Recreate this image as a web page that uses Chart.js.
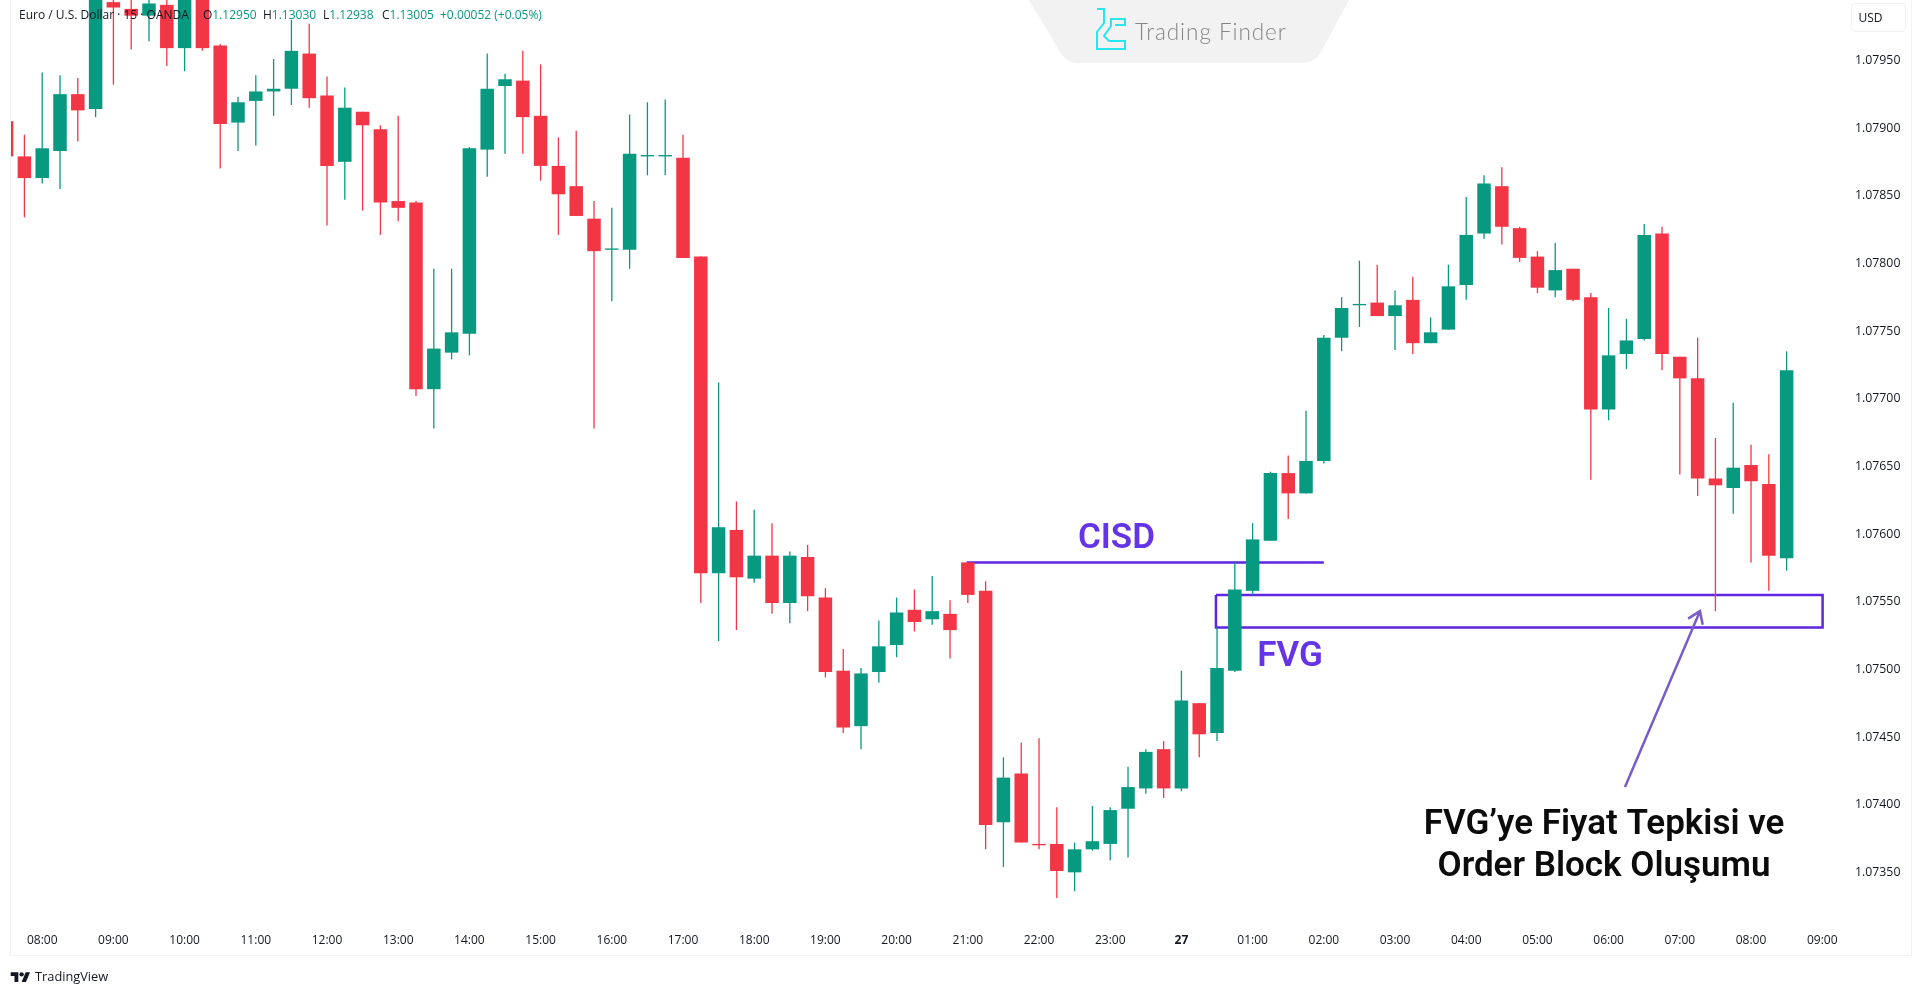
<!DOCTYPE html>
<html>
<head>
<meta charset="utf-8">
<title>EUR/USD 15m</title>
<script src="https://cdn.jsdelivr.net/npm/chart.js@4"></script>
<style>
    html, body { margin: 0; padding: 0; background: #fff; }
    body { width: 1919px; height: 996px; overflow: hidden; position: relative; }
    #stage { position: absolute; left: 0; top: 0; }
    .narrow { font-family: "Open Sans", sans-serif; }
    .frame { position: absolute; background: #f1f2f4; }
    #legend { position: absolute; left: 19px; top: 7px; font-size: 12px; line-height: 16px; color: #131722; white-space: nowrap; }
    #legend span { position: absolute; top: 0; }
    #legend i { font-style: normal; color: #089981; }
    #usd { position: absolute; left: 1851px; top: 3px; width: 55px; height: 29px; border: 1px solid #f0f1f3; border-radius: 4px; box-sizing: border-box; padding-right: 16px; text-align: center; line-height: 28px; font-size: 12px; color: #131722; }
    #tvText { position: absolute; left: 35px; top: 967px; font-size: 12.8px; line-height: 18px; color: #131722; }
    #tfText { position: absolute; left: 1135px; top: 18px; font: 300 22.5px Lato, sans-serif; letter-spacing: 0.95px; color: #858585; white-space: nowrap; }
    svg { position: absolute; }
</style>
</head>
<body>
<canvas id="stage" width="1919" height="996"></canvas>

<div class="frame" style="left:10px;top:0;width:1px;height:955px"></div>
<div class="frame" style="left:1911px;top:0;width:1px;height:955px"></div>
<div class="frame" style="left:10px;top:955px;width:1902px;height:1px"></div>

<div id="legend" class="narrow">
    <span style="left:0">Euro / U.S. Dollar · 15 · OANDA</span>
    <span style="left:184px">O<i>1.12950</i></span>
    <span style="left:244px">H<i>1.13030</i></span>
    <span style="left:304px">L<i>1.12938</i></span>
    <span style="left:363px">C<i>1.13005</i></span>
    <span style="left:421px"><i>+0.00052 (+0.05%)</i></span>
</div>

<svg style="left:1029px;top:0" width="321" height="64" viewBox="0 0 321 64">
    <path d="M0 0 L320 0 L293 50 Q287 63 273 63 L50 63 Q36 63 30 50 Z" fill="#f2f2f2"/>
</svg>
<svg style="left:1095px;top:6px" width="34" height="46" viewBox="0 0 34 46" fill="none" stroke="#27e6ee" stroke-width="2">
    <path d="M2 3 H9 V17 L2 26 V43 H30 V35 H14 L9 30 L16 20 V13 H30 V19 H20"/>
</svg>
<div id="tfText">Trading Finder</div>

<div id="usd" class="narrow">USD</div>

<svg style="left:10px;top:970px" width="21" height="12" viewBox="0 0 36 22" fill="#131722">
    <path d="M14 22H7V11H0V4h14v18zM28 22h-8l7.5-18h8L28 22z"/><circle cx="20" cy="8" r="4"/>
</svg>
<div id="tvText" class="narrow">TradingView</div>

<script>
// 15 minute candles, first one sits two bars before the 08:00 tick
const firstCandle = -2;
const opens = [
    1.07904, 1.07878, 1.07862, 1.07882, 1.07924, 1.07913, 1.07992, 1.07987, 1.07982, 1.07990,
    1.07958, 1.08001, 1.07960, 1.07903, 1.07919, 1.07926, 1.07928, 1.07954, 1.07923, 1.07874,
    1.07911, 1.07898, 1.07845, 1.07844, 1.07706, 1.07733, 1.07747, 1.07883, 1.07930, 1.07934,
    1.07908, 1.07871, 1.07856, 1.07832, 1.07809, 1.07809, 1.07878, 1.07878, 1.07877, 1.07804,
    1.07570, 1.07602, 1.07566, 1.07583, 1.07548, 1.07582, 1.07552, 1.07498, 1.07457, 1.07497,
    1.07517, 1.07543, 1.07536, 1.07540, 1.07578, 1.07557, 1.07386, 1.07422, 1.07370, 1.07370,
    1.07349, 1.07366, 1.07370, 1.07396, 1.07411, 1.07440, 1.07411, 1.07474, 1.07452, 1.07498,
    1.07557, 1.07594, 1.07644, 1.07629, 1.07653, 1.07744, 1.07768, 1.07770, 1.07760, 1.07772,
    1.07740, 1.07750, 1.07783, 1.07821, 1.07856, 1.07825, 1.07804, 1.07779, 1.07795, 1.07774,
    1.07691, 1.07732, 1.07743, 1.07821, 1.07730, 1.07714, 1.07640, 1.07633, 1.07650, 1.07636,
    1.07581
];
const closes = [
    1.07878, 1.07862, 1.07884, 1.07924, 1.07912, 1.08005, 1.07988, 1.07982, 1.07991, 1.07958,
    1.08001, 1.07958, 1.07902, 1.07918, 1.07926, 1.07928, 1.07956, 1.07921, 1.07871, 1.07914,
    1.07901, 1.07844, 1.07840, 1.07706, 1.07736, 1.07748, 1.07884, 1.07928, 1.07935, 1.07907,
    1.07871, 1.07850, 1.07834, 1.07808, 1.07810, 1.07880, 1.07879, 1.07879, 1.07803, 1.07570,
    1.07604, 1.07567, 1.07583, 1.07548, 1.07583, 1.07553, 1.07497, 1.07456, 1.07496, 1.07516,
    1.07541, 1.07534, 1.07542, 1.07528, 1.07554, 1.07384, 1.07419, 1.07371, 1.07369, 1.07350,
    1.07366, 1.07372, 1.07395, 1.07412, 1.07438, 1.07411, 1.07476, 1.07451, 1.07500, 1.07558,
    1.07595, 1.07644, 1.07629, 1.07653, 1.07744, 1.07766, 1.07769, 1.07760, 1.07768, 1.07740,
    1.07748, 1.07782, 1.07820, 1.07858, 1.07826, 1.07803, 1.07781, 1.07794, 1.07772, 1.07691,
    1.07731, 1.07742, 1.07820, 1.07732, 1.07714, 1.07640, 1.07635, 1.07648, 1.07638, 1.07583,
    1.07720
];
const highs = [
    1.07904, 1.07894, 1.07940, 1.07938, 1.07936, 1.08012, 1.08002, 1.07998, 1.08000, 1.07997,
    1.08008, 1.08006, 1.07961, 1.07922, 1.07938, 1.07950, 1.07979, 1.07976, 1.07937, 1.07929,
    1.07911, 1.07901, 1.07908, 1.07845, 1.07795, 1.07795, 1.07885, 1.07954, 1.07939, 1.07956,
    1.07946, 1.07892, 1.07897, 1.07845, 1.07840, 1.07909, 1.07918, 1.07920, 1.07894, 1.07804,
    1.07711, 1.07623, 1.07617, 1.07607, 1.07586, 1.07591, 1.07559, 1.07514, 1.07500, 1.07535,
    1.07552, 1.07558, 1.07568, 1.07550, 1.07578, 1.07564, 1.07434, 1.07445, 1.07448, 1.07397,
    1.07371, 1.07398, 1.07397, 1.07427, 1.07440, 1.07446, 1.07498, 1.07474, 1.07530, 1.07578,
    1.07607, 1.07645, 1.07657, 1.07690, 1.07746, 1.07774, 1.07801, 1.07798, 1.07779, 1.07789,
    1.07759, 1.07798, 1.07848, 1.07864, 1.07870, 1.07826, 1.07808, 1.07814, 1.07795, 1.07777,
    1.07766, 1.07758, 1.07828, 1.07826, 1.07730, 1.07744, 1.07670, 1.07696, 1.07665, 1.07658,
    1.07734
];
const lows = [
    1.07878, 1.07833, 1.07858, 1.07854, 1.07889, 1.07907, 1.07931, 1.07957, 1.07963, 1.07945,
    1.07941, 1.07956, 1.07869, 1.07882, 1.07886, 1.07908, 1.07916, 1.07914, 1.07827, 1.07846,
    1.07838, 1.07820, 1.07830, 1.07701, 1.07677, 1.07728, 1.07731, 1.07863, 1.07880, 1.07880,
    1.07860, 1.07820, 1.07834, 1.07677, 1.07771, 1.07795, 1.07864, 1.07864, 1.07803, 1.07548,
    1.07520, 1.07528, 1.07563, 1.07540, 1.07533, 1.07542, 1.07493, 1.07452, 1.07440, 1.07489,
    1.07508, 1.07527, 1.07532, 1.07507, 1.07548, 1.07366, 1.07353, 1.07371, 1.07366, 1.07330,
    1.07335, 1.07365, 1.07358, 1.07360, 1.07407, 1.07404, 1.07409, 1.07434, 1.07446, 1.07497,
    1.07554, 1.07594, 1.07610, 1.07629, 1.07651, 1.07734, 1.07752, 1.07760, 1.07735, 1.07732,
    1.07740, 1.07750, 1.07772, 1.07817, 1.07813, 1.07800, 1.07777, 1.07774, 1.07771, 1.07639,
    1.07683, 1.07721, 1.07742, 1.07720, 1.07643, 1.07627, 1.07542, 1.07614, 1.07578, 1.07557,
    1.07572
];

const hourLabels = [
    '08:00', '09:00', '10:00', '11:00', '12:00', '13:00', '14:00', '15:00', '16:00',
    '17:00', '18:00', '19:00', '20:00', '21:00', '22:00', '23:00', '27', '01:00',
    '02:00', '03:00', '04:00', '05:00', '06:00', '07:00', '08:00', '09:00'
];
const priceTicks = [
    1.0735, 1.074, 1.0745, 1.075, 1.0755, 1.076, 1.0765, 1.077, 1.0775, 1.078, 1.0785, 1.079, 1.0795
];

// drawn objects, x in bars from the 08:00 tick
const cisdLine = [{ x: 51.93, y: 1.07578 }, { x: 72, y: 1.07578 }];
const fvgBox = [
    { x: 65.94, y: 1.07554 }, { x: 100.02, y: 1.07554 },
    { x: 100.02, y: 1.07530 }, { x: 65.94, y: 1.07530 }, { x: 65.94, y: 1.07554 }
];
const arrowFrom = { x: 88.92, y: 1.07412 };
const arrowTo = { x: 93.13, y: 1.07542 };

const green = '#089981';
const red = '#F23645';
const purple = '#5f25e0';
const labelFont = '"Open Sans", sans-serif';

const barX = (i) => i + firstCandle;
const candleColors = closes.map((c, i) => (c >= opens[i] ? green : red));

const annotationPlugin = {
    id: 'annotationPlugin',
    afterDatasetsDraw(chart) {
        const { ctx, scales: { x, y } } = chart;
        ctx.save();

        const ax = x.getPixelForValue(arrowFrom.x);
        const ay = y.getPixelForValue(arrowFrom.y);
        const bx = x.getPixelForValue(arrowTo.x);
        const by = y.getPixelForValue(arrowTo.y);
        const angle = Math.atan2(by - ay, bx - ax);
        ctx.strokeStyle = '#7a5cc9';
        ctx.lineWidth = 2.5;
        ctx.beginPath();
        ctx.moveTo(ax, ay);
        ctx.lineTo(bx, by);
        ctx.moveTo(bx - 14 * Math.cos(angle - 0.6), by - 14 * Math.sin(angle - 0.6));
        ctx.lineTo(bx, by);
        ctx.lineTo(bx - 14 * Math.cos(angle + 0.6), by - 14 * Math.sin(angle + 0.6));
        ctx.stroke();

        ctx.textAlign = 'center';
        ctx.textBaseline = 'middle';
        ctx.fillStyle = '#6534e6';
        ctx.font = '600 35px Roboto, sans-serif';
        ctx.fillText('CISD', x.getPixelForValue(60.35), y.getPixelForValue(1.07595));
        ctx.fillText('FVG', x.getPixelForValue(70.1), y.getPixelForValue(1.07508));

        ctx.fillStyle = '#0b0b0b';
        ctx.fillText('FVG’ye Fiyat Tepkisi ve', x.getPixelForValue(87.74), y.getPixelForValue(1.07384));
        ctx.fillText('Order Block Oluşumu', x.getPixelForValue(87.74), y.getPixelForValue(1.07353));
        ctx.restore();
    },
};

// labels must not push the plot area in from the edges
const noScalePadding = (axis) => {
    axis.paddingLeft = 0;
    axis.paddingRight = 0;
    axis.paddingTop = 0;
    axis.paddingBottom = 0;
};

new Chart(document.getElementById('stage').getContext('2d'), {
    data: {
        datasets: [
            {
                type: 'bar',
                data: opens.map((o, i) => ({ x: barX(i), y: [o, closes[i]] })),
                backgroundColor: candleColors,
                barThickness: 13.5,
                inflateAmount: 0,
                grouped: false,
                order: 1,
            },
            {
                type: 'bar',
                data: lows.map((l, i) => ({ x: barX(i), y: [l, highs[i]] })),
                backgroundColor: candleColors,
                barThickness: 1.3,
                inflateAmount: 0,
                grouped: false,
                order: 2,
            },
            {
                type: 'line',
                data: cisdLine,
                borderColor: purple,
                borderWidth: 2.5,
                pointRadius: 0,
                order: 3,
            },
            {
                type: 'line',
                data: fvgBox,
                borderColor: purple,
                borderWidth: 2.5,
                pointRadius: 0,
                order: 3,
            },
        ],
    },
    plugins: [annotationPlugin],
    options: {
        responsive: false,
        animation: false,
        events: [],
        layout: { padding: { left: 11, right: 8, top: 0, bottom: 41 } },
        plugins: { legend: { display: false }, tooltip: { enabled: false } },
        scales: {
            x: {
                type: 'linear',
                offset: false,
                min: -1.753,
                max: 101.56,
                grid: { display: false, drawTicks: false },
                border: { display: false },
                afterBuildTicks(axis) {
                    axis.ticks = hourLabels.map((_, i) => ({ value: i * 4 }));
                },
                afterFit(axis) {
                    axis.height = 27;
                    noScalePadding(axis);
                },
                ticks: {
                    autoSkip: false,
                    maxRotation: 0,
                    padding: 5,
                    color: '#131722',
                    font: (c) => ({
                        family: labelFont,
                        size: 12,
                        weight: hourLabels[c.index] === '27' ? 'bold' : 'normal',
                    }),
                    callback: (v) => hourLabels[v / 4],
                },
            },
            y: {
                position: 'right',
                min: 1.0730787,
                max: 1.0799357,
                grid: { display: false, drawTicks: false },
                border: { display: false },
                afterBuildTicks(axis) {
                    axis.ticks = priceTicks.map((v) => ({ value: v }));
                },
                afterFit(axis) {
                    axis.width = 61;
                    noScalePadding(axis);
                },
                ticks: {
                    padding: 5,
                    labelOffset: 1.5,
                    color: '#131722',
                    font: { family: labelFont, size: 12.3 },
                    callback: (v) => v.toFixed(5),
                },
            },
        },
    },
});
</script>
</body>
</html>
